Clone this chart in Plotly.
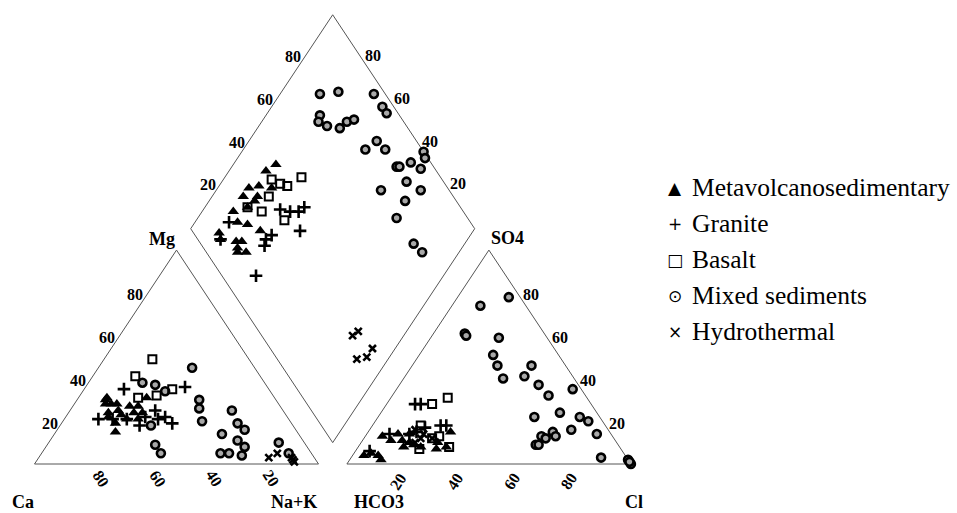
import numpy as np
import plotly.graph_objects as go

# ---------------- data (percent) ----------------
# Cation triangle: Mg %, Na+K %
meta_cat_mg = [31, 28, 28, 24, 25, 27, 27, 31, 24, 22, 19, 21, 21, 15, 30, 23, 28, 24]
meta_cat_nak = [10, 11, 15, 14, 17, 20, 23, 24, 23, 15, 19, 22, 26, 21, 10, 19, 13, 26]
granite_cat_mg = [35, 36, 21, 25, 22, 19, 18, 22, 21, 21, 21]
granite_cat_nak = [14, 35, 12, 30, 35, 39, 28, 28, 22, 33, 17]
basalt_cat_mg = [49, 41, 35, 32, 31]
basalt_cat_nak = [17, 15, 31, 27, 21]
mixed_cat_mg = [38, 37, 34, 45, 30, 26, 20, 18, 9, 5, 14, 25, 19, 16, 11, 8, 5, 5, 4, 10, 5]
mixed_cat_nak = [19, 24, 29, 33, 43, 45, 49, 32, 38, 42, 59, 57, 62, 66, 66, 70, 63, 66, 71, 81, 87]
hydro_cat_mg = [3, 5, 3, 1, 2]
hydro_cat_nak = [81, 83, 89, 91, 90]

# Anion triangle: SO4 %, Cl %
meta_an_so4 = [13, 14, 11, 10, 8, 7, 10, 15, 8, 4, 2, 4, 5, 14, 11, 8, 9]
meta_an_cl = [6, 11, 14, 17, 16, 28, 27, 29, 31, 9, 11, 4, 6, 15, 10, 22, 19]
granite_an_so4 = [28, 28, 14, 14, 15, 18, 18, 6, 17]
granite_an_cl = [10, 12, 8, 15, 17, 26, 24, 5, 19]
basalt_an_so4 = [28, 31, 18, 12, 8, 7, 13]
basalt_an_cl = [16, 20, 17, 24, 32, 22, 26]
mixed_an_so4 = [78, 74, 61, 60, 59, 51, 46, 40, 46, 41, 37, 32, 35, 24, 22, 22, 20, 16, 14, 15,
                13, 13, 12, 9, 9, 3, 2, 0, 1]
mixed_an_cl = [18, 10, 11, 12, 24, 26, 30, 35, 42, 42, 49, 55, 62, 63, 55, 71, 75, 71, 81, 65,
               67, 62, 64, 62, 63, 88, 98, 100, 99]
hydro_an_so4 = [16, 14, 10, 12, 12]
hydro_an_cl = [16, 20, 19, 20, 24]

# Diamond: Na+K %, SO4+Cl %
meta_dm_nak = [15, 13, 14, 19, 11, 16, 11, 15, 15, 19, 25, 11, 13, 19, 21, 21, 25, 22, 11, 16]
meta_dm_sc = [45, 40, 34, 38, 26, 29, 19, 25, 18, 21, 24, 9, 8, 13, 15, 12, 14, 11, 30, 31]
granite_dm_nak = [12, 27, 34, 35, 39, 30, 29, 30, 34, 13, 31]
granite_dm_sc = [15, 36, 42, 45, 38, 27, 24, 22, 12, 8, 39]
basalt_dm_nak = [17, 21, 24, 27, 20, 15, 21, 31]
basalt_dm_sc = [40, 42, 44, 51, 35, 25, 29, 35]
mixed_dm_nak = [14, 20, 33, 39, 42, 19, 20, 24, 29, 30, 32, 45, 43, 50, 64, 66, 58, 59, 62, 67,
                65, 72, 58, 69, 70, 82, 87]
mixed_dm_sc = [77, 84, 96, 96, 96, 72, 70, 72, 76, 80, 83, 86, 80, 87, 100, 99, 87, 88, 93, 95,
               87, 90, 76, 82, 75, 75, 76]
hydro_dm_nak = [82, 83, 89, 92, 92]
hydro_dm_sc = [32, 35, 28, 32, 36]

tick_values = [20, 40, 60, 80]
group_names = ["Metavolcanosedimentary", "Granite", "Basalt", "Mixed sediments", "Hydrothermal"]
legend_glyphs = ["\u25B2", "+", "\u25A1", "\u2299", "\u00D7"]

# ---------------- geometry ----------------
G = 0.1
H = np.sqrt(3) / 2
SX, SY = 284.0, 247.0      # px per unit
X0PX, Y0PX = 34.5, 464.0   # window-pixel position of the Ca corner
W, HT = 957, 513


def to_x(px):
    return (px - X0PX) / SX


def to_y(py):
    return (Y0PX - py) / SY


def cation_xy(mg, nak):
    mg = np.asarray(mg, float) / 100
    nak = np.asarray(nak, float) / 100
    return nak + 0.5 * mg, H * mg


def anion_xy(so4, cl):
    so4 = np.asarray(so4, float) / 100
    cl = np.asarray(cl, float) / 100
    return 1 + G + cl + 0.5 * so4, H * so4


def diamond_xy(nak, sc):
    a = np.asarray(nak, float) / 100
    b = np.asarray(sc, float) / 100
    return (a + 1 + G + b) / 2, H * (1 + G + b - a)


fig = go.Figure()

# outlines
outline = dict(color="#555555", width=1)
tri_c = [(0, 0), (1, 0), (0.5, H), (0, 0)]
tri_a = [(1 + G, 0), (2 + G, 0), (1.5 + G, H), (1 + G, 0)]
dia = [(1 + G / 2, G * H), (1.5 + G / 2, (1 + G) * H), (1 + G / 2, (2 + G) * H),
       (0.5 + G / 2, (1 + G) * H), (1 + G / 2, G * H)]
for poly in (tri_c, tri_a, dia):
    fig.add_trace(go.Scatter(x=[p[0] for p in poly], y=[p[1] for p in poly], mode="lines",
                             line=outline, hoverinfo="skip", showlegend=False))

styles = {
    "Metavolcanosedimentary": dict(symbol="triangle-up", size=10, color="black",
                                   line=dict(width=0)),
    "Granite": dict(symbol="cross-thin", size=9, color="black",
                    line=dict(width=2.6, color="black")),
    "Basalt": dict(symbol="square-open", size=8, color="black",
                   line=dict(width=2, color="black")),
    "Mixed sediments": dict(symbol="circle", size=8, color="#a8a8a8",
                            line=dict(width=2.6, color="black")),
    "Hydrothermal": dict(symbol="x-thin", size=7, color="black",
                         line=dict(width=2.6, color="black")),
}

groups = {
    "Mixed sediments": ((mixed_cat_mg, mixed_cat_nak), (mixed_an_so4, mixed_an_cl), (mixed_dm_nak, mixed_dm_sc)),
    "Basalt": ((basalt_cat_mg, basalt_cat_nak), (basalt_an_so4, basalt_an_cl), (basalt_dm_nak, basalt_dm_sc)),
    "Granite": ((granite_cat_mg, granite_cat_nak), (granite_an_so4, granite_an_cl), (granite_dm_nak, granite_dm_sc)),
    "Metavolcanosedimentary": ((meta_cat_mg, meta_cat_nak), (meta_an_so4, meta_an_cl), (meta_dm_nak, meta_dm_sc)),
    "Hydrothermal": ((hydro_cat_mg, hydro_cat_nak), (hydro_an_so4, hydro_an_cl), (hydro_dm_nak, hydro_dm_sc)),
}

for name, (cat, an, dm) in groups.items():
    xs, ys = [], []
    for fn, d in ((cation_xy, cat), (anion_xy, an), (diamond_xy, dm)):
        x, y = fn(*d)
        xs += list(x)
        ys += list(y)
    fig.add_trace(go.Scatter(x=xs, y=ys, mode="markers", marker=styles[name], name=name,
                             showlegend=False, cliponaxis=False))

ann = []
tick_font = dict(family="Liberation Serif", size=16, color="black", weight="bold")
lab_font = dict(family="Liberation Serif", size=18, color="black", weight="bold")


def add_text(x, y, text, font, angle=0, dxp=0.0, dyp=0.0, xanchor="center"):
    ann.append(dict(x=x + dxp / SX, y=y - dyp / SY, xref="x", yref="y", text=text,
                    showarrow=False, font=font, textangle=angle, xanchor=xanchor,
                    yanchor="middle"))


for v in tick_values:
    f = v / 100
    # cation: Mg along left edge
    add_text(0.5 * f, H * f, str(v), tick_font, dxp=-13, dyp=2)
    # cation: Ca along base
    add_text(1 - f, 0, str(v), tick_font, angle=57, dxp=9.5, dyp=14.5)
    # anion: Cl along base
    add_text(1 + G + f, 0, str(v), tick_font, angle=-57, dxp=-5.5, dyp=17.5)
    # anion: SO4 along right edge
    add_text(2 + G - 0.5 * f, H * f, str(v), tick_font, dxp=14, dyp=2)
    # diamond: upper-left edge
    add_text(0.5 + G / 2 + 0.5 * f, H * (1 + G + f), str(v), tick_font, dxp=-11, dyp=-1)
    # diamond: upper-right edge
    add_text(1.5 + G / 2 - 0.5 * f, H * (1 + G + f), str(v), tick_font, dxp=12, dyp=-2)

for txt, px, py in (("Mg", 162, 239), ("Ca", 22.5, 502), ("Na+K", 294, 502),
                    ("HCO3", 379, 502), ("SO4", 507, 238), ("Cl", 634, 502)):
    add_text(to_x(px), to_y(py), txt, lab_font)

leg_font = dict(family="Liberation Serif", size=25.5, color="black")
sym_font = dict(family="DejaVu Sans", size=17, color="black")
for i, (nm, gl) in enumerate(zip(group_names, legend_glyphs)):
    py = 188 + i * 36
    add_text(to_x(675), to_y(py), gl, sym_font)
    add_text(to_x(690), to_y(py - 1), nm, leg_font, xanchor="left")

fig.update_layout(
    width=W, height=HT,
    margin=dict(l=0, r=0, t=0, b=0),
    paper_bgcolor="white", plot_bgcolor="white",
    xaxis=dict(range=[to_x(0), to_x(W)], visible=False, fixedrange=True),
    yaxis=dict(range=[to_y(HT), to_y(0)], visible=False, fixedrange=True),
    annotations=ann,
    showlegend=False,
)

fig.write_html(
    "out.html",
    config={"displayModeBar": False},
    post_script="document.body.style.margin='0px';document.body.style.overflow='hidden';",
)
